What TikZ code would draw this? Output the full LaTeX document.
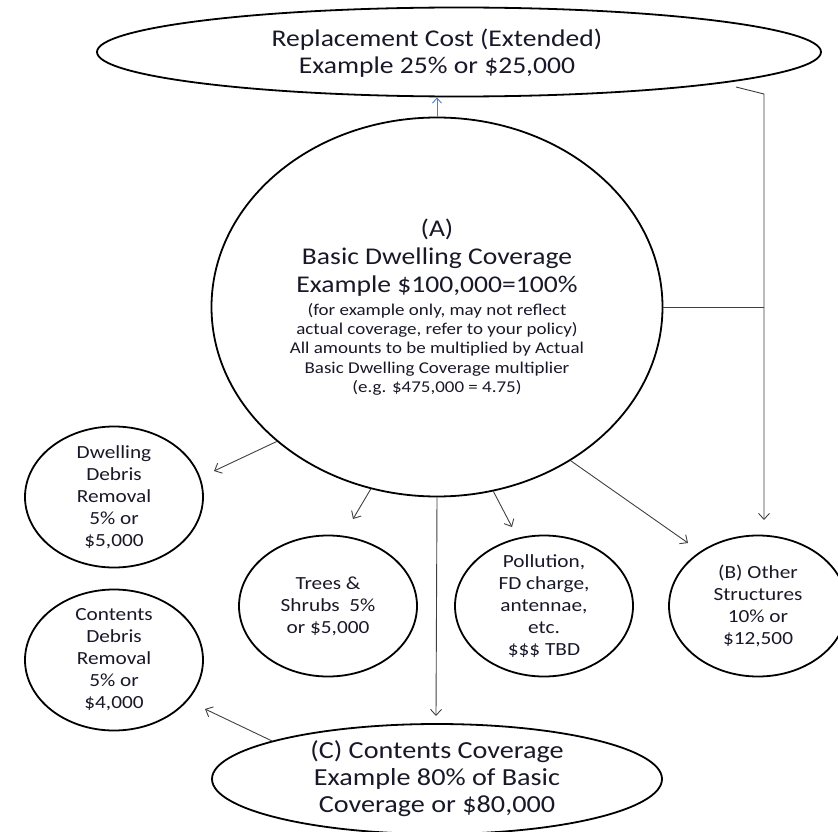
\documentclass[tikz,border=0pt]{standalone}
\usepackage{fontspec}
\setmainfont{Carlito}[FakeStretch=1.15]
\usetikzlibrary{arrows.meta,shapes.geometric}
\definecolor{textdark}{RGB}{24,24,40}
\definecolor{linegray}{RGB}{64,64,64}
\definecolor{arrowblue}{RGB}{79,129,189}
\newcommand{\headfont}{\fontsize{24}{27}\selectfont}
\newcommand{\mainfont}{\fontsize{24}{28}\selectfont}
\newcommand{\notefont}{\fontsize{16.5}{18}\selectfont}
\newcommand{\itemfont}{\fontsize{18.5}{22}\selectfont}
\newcommand{\lowfont}{\fontsize{24.5}{27}\selectfont}

\begin{document}
\begin{tikzpicture}[
 x=1pt,y=-1pt,
 bubble/.style={ellipse,draw=black,line width=1.8pt,inner xsep=0pt,inner ysep=-30pt,align=center,text=textdark},
 item/.style={bubble,minimum width=178,minimum height=141,font=\itemfont},
 feed/.style={-{Straight Barb[length=6pt,width=11pt]},linegray,line width=0.9pt},
 link/.style={linegray,line width=0.9pt},
 upfeed/.style={-{Straight Barb[length=5pt,width=9pt]},arrowblue,line width=0.9pt}
]
\useasboundingbox (0,0) rectangle (838,832);
\node[bubble,minimum width=724,minimum height=89,
 label={[font=\headfont,align=center,text=textdark,xshift=-22pt,yshift=-1pt]center:Replacement Cost (Extended)\\Example 25\% or \$25,000}] (repl) at (459,52) {};
\node[bubble,minimum width=451,minimum height=379,font=\mainfont] (basic) at (437,307) {(A)\\Basic Dwelling Coverage\\Example \$100,000=100\%\\[-5pt]\notefont (for example only, may not reflect\\[-8.8pt]\notefont actual coverage, refer to your policy)\\[-8.8pt]\notefont All amounts to be multiplied by Actual\\[-8.8pt]\notefont Basic Dwelling Coverage multiplier\\[-8.8pt]\notefont (e.g. \$475,000 = 4.75)};
\node[item] (ddebris) at (114,497) {Dwelling\\Debris\\Removal\\5\% or\\\$5,000};
\node[item] (trees) at (328,606) {Trees \&\\Shrubs\ \ 5\%\\or \$5,000};
\node[item] (pollution) at (544,606) {Pollution,\\FD charge,\\antennae,\\etc.\\\$\$\$ TBD};
\node[item] (other) at (758,606) {(B) Other\\Structures\\10\% or\\\$12,500};
\node[item] (cdebris) at (114,660) {Contents\\Debris\\Removal\\5\% or\\\$4,000};
\node[bubble,minimum width=450,minimum height=110,font=\lowfont] (contents) at (437,779) {(C) Contents Coverage\\Example 80\% of Basic\\Coverage or \$80,000};
\coordinate (ddtip) at (214,471);
\coordinate (trtip) at (353,519);
\coordinate (potip) at (512,527);
\coordinate (ottip) at (688,543);
\coordinate (cotip) at (436,716);
\coordinate (cdtip) at (205,709);
\coordinate (rcend) at (736,87);
\coordinate (rcknee) at (764,94);
\coordinate (rctip) at (764,520);
\draw[upfeed] (basic.north) -- (basic.north |- repl.south);
\draw[feed] (basic.220) -- (ddtip);
\draw[feed] (basic.250) -- (trtip);
\draw[feed] (basic.287) -- (potip);
\draw[feed] (basic.311) -- (ottip);
\draw[feed] (basic.south) -- (cotip);
\draw[feed] (contents.167) -- (cdtip);
\draw[feed] (rcend) -- (rcknee) -- (rctip);
\draw[link] (basic.east) -- (basic.east -| rcknee);
\end{tikzpicture}
\end{document}
